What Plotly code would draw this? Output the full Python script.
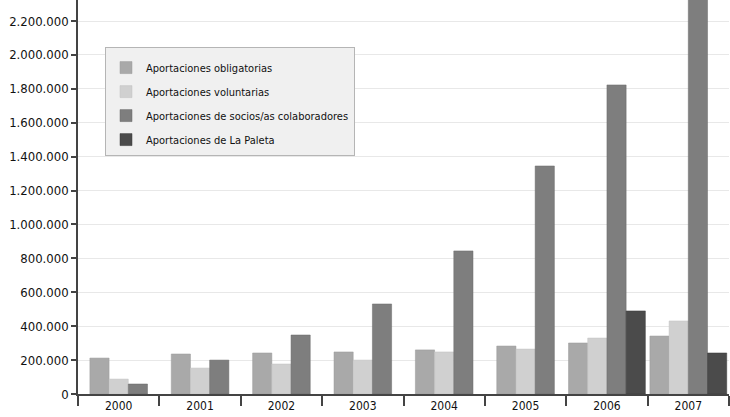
import plotly.graph_objects as go

years = ["2000", "2001", "2002", "2003", "2004", "2005", "2006", "2007"]
series_names = [
    "Aportaciones obligatorias",
    "Aportaciones voluntarias",
    "Aportaciones de socios/as colaboradores",
    "Aportaciones de La Paleta",
]
obligatorias = [212000, 236000, 242000, 248000, 260000, 283000, 301000, 342000]
voluntarias = [88000, 153000, 177000, 200000, 248000, 265000, 330000, 431000]
socios = [59000, 200000, 348000, 531000, 844000, 1345000, 1823000, 2450000]
la_paleta = [None, None, None, None, None, None, 490000, 242000]
tick_vals = [0, 200000, 400000, 600000, 800000, 1000000, 1200000, 1400000,
             1600000, 1800000, 2000000, 2200000]

series = [obligatorias, voluntarias, socios, la_paleta]
colors = ["#a9a9a9", "#d0d0d0", "#7e7e7e", "#4b4b4b"]
line_colors = ["#9a9a9a", "#c2c2c2", "#6a6a6a", "#3a3a3a"]

W = 0.236
offsets = [[None] * len(years) for _ in series]
for j in range(len(years)):
    present = [i for i, s in enumerate(series) if s[j] is not None]
    n = len(present)
    for k, i in enumerate(present):
        offsets[i][j] = -n * W / 2 + k * W

font_fam = "DejaVu Sans Condensed, Liberation Sans Narrow, sans-serif"

fig = go.Figure()
for i, (name, vals) in enumerate(zip(series_names, series)):
    fig.add_trace(go.Bar(
        x=years, y=vals, name=name,
        width=[W] * len(years),
        offset=[o if o is not None else 0 for o in offsets[i]],
        marker=dict(color=colors[i], line=dict(color=line_colors[i], width=0.5)),
        legendgroup=f"g{i}",
    ))

fig.update_layout(
    width=730, height=417,
    margin=dict(l=78, r=1, t=0, b=23),
    barmode="overlay",
    plot_bgcolor="white", paper_bgcolor="white",
    separators=",.",
    font=dict(family=font_fam, color="#111"),
    legend=dict(
        x=0.0415, y=0.881, xanchor="left", yanchor="top",
        bgcolor="#f0f0f0", bordercolor="#b5b5b5", borderwidth=1,
        font=dict(size=11, family=font_fam, color="#111"),
        tracegroupgap=5,
        entrywidth=285,
        title=dict(text=" ", font=dict(size=4)),
    ),
    showlegend=True,
)
fig.update_xaxes(
    type="category",
    showline=True, linecolor="#444", linewidth=1.5,
    ticks="outside", tickson="boundaries", ticklen=10, tickcolor="#444", tickwidth=1.5,
    tickfont=dict(size=12, family=font_fam, color="#111"),
    showgrid=False,
)
fig.update_yaxes(
    range=[0, 2324000],
    tickvals=tick_vals, tickformat=",d",
    showline=True, linecolor="#444", linewidth=1.5,
    ticks="outside", ticklen=5, tickcolor="#444", tickwidth=1.5,
    tickfont=dict(size=13, family=font_fam, color="#111"),
    showgrid=True, gridcolor="#e8e8e8", gridwidth=1,
    zeroline=False,
)

fig.write_html("out.html")
